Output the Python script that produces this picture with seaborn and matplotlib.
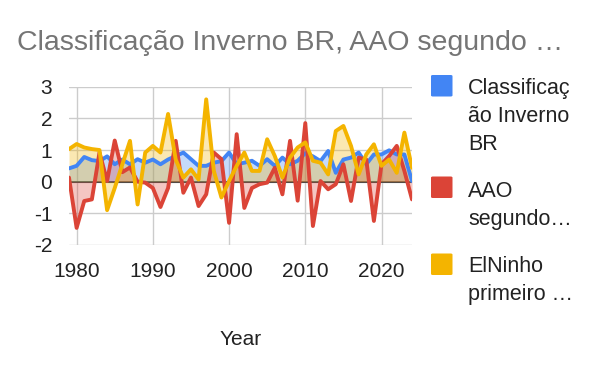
import numpy as np
import pandas as pd
import matplotlib
matplotlib.use("Agg")
import matplotlib.pyplot as plt
import seaborn as sns
from matplotlib.patches import FancyBboxPatch

years = list(range(1979, 2025))
classificacao = [0.42, 0.50, 0.78, 0.68, 0.65, 0.80, 0.55, 0.70, 0.55, 0.71,
                 0.60, 0.70, 0.55, 0.70, 0.81, 0.92, 0.71, 0.50, 0.50, 0.60,
                 0.65, 0.92, 0.55, 0.60, 0.66, 0.50, 0.71, 0.50, 0.76, 0.55,
                 0.66, 0.90, 0.80, 0.65, 0.97, 0.28, 0.70, 0.76, 0.92, 0.55,
                 0.86, 0.86, 0.99, 0.86, 0.86, 0.02]
aao = [0.13, -1.46, -0.61, -0.56, 0.92, 0.02, 1.30, 0.30, 0.45, 0.00,
       -0.03, -0.20, -0.80, -0.20, 1.29, -0.35, 0.13, -0.77, -0.40, 0.92,
       0.71, -1.30, 1.50, -0.83, -0.20, -0.08, -0.03, 0.44, -0.40, 1.29,
       -0.60, 1.85, -1.40, 0.02, -0.24, -0.08, 0.55, -0.61, 0.76, 0.70,
       -1.24, 0.55, 0.81, 1.13, 0.34, -0.56]
elninho = [1.03, 1.19, 1.08, 1.03, 1.00, -0.90, -0.20, 0.55, 1.29, -0.72,
           0.92, 1.13, 0.92, 2.14, 0.70, 0.13, 0.39, 0.07, 2.60, 0.34,
           -0.50, 0.02, 0.50, 0.92, 0.34, 0.34, 1.34, 0.81, 0.13, 0.76,
           1.08, 1.24, 0.66, 0.60, 0.23, 1.60, 1.76, 1.13, 0.23, 0.86,
           1.18, 0.50, 0.70, 0.28, 1.55, 0.44]

series_names = ["Classificação Inverno BR", "AAO segundo", "ElNinho primeiro"]
legend_labels = ["Classificaç\não Inverno\nBR", "AAO\nsegundo…", "ElNinho\nprimeiro …"]
colors = ["#4285F4", "#DB4437", "#F4B400"]
yticks = [-2, -1, 0, 1, 2, 3]
xticks = [1980, 1990, 2000, 2010, 2020]
title = "Classificação Inverno BR, AAO segundo …"
xlabel = "Year"

sns.set_theme(style="white")
plt.rcParams['font.family'] = ['Liberation Sans', 'DejaVu Sans']
plt.rcParams['axes.unicode_minus'] = False

W, H = 600, 371
fig = plt.figure(figsize=(W / 100, H / 100), dpi=100)
fig.patch.set_facecolor("white")

def fx(px):
    return px / W

def fy(py):
    return 1 - py / H

left, right, top, bottom = 69, 412, 86.7, 245
ax = fig.add_axes([fx(left), fy(bottom), fx(right) - fx(left), fy(top) - fy(bottom)])

df = pd.DataFrame({"Year": years,
                   series_names[0]: classificacao,
                   series_names[1]: aao,
                   series_names[2]: elninho})
long = df.melt(id_vars="Year", var_name="Series", value_name="Value")

ax.axhline(0, color="#333333", lw=1.3, zorder=1)
for name, col in zip(series_names, colors):
    ax.fill_between(df["Year"], df[name], 0, color=col, alpha=0.3, lw=0, zorder=2)

sns.lineplot(data=long, x="Year", y="Value", hue="Series", palette=colors,
             hue_order=series_names, lw=2.8, ax=ax, legend=False, zorder=3)

ax.set_xlim(1979, 2024)
ax.set_ylim(-2, 3)
ax.set_yticks(yticks)
ax.set_xticks(xticks)
ax.grid(True, color="#cccccc", lw=1)
ax.set_axisbelow(True)
for s in ax.spines.values():
    s.set_visible(False)
ax.tick_params(axis="both", length=0, labelsize=15, colors="#222222")
ax.tick_params(axis="y", pad=12)
ax.tick_params(axis="x", pad=12)
ax.set_ylabel("")
ax.set_xlabel(xlabel, fontsize=15, color="#222222")
ax.xaxis.set_label_coords(0.5, -0.54)

fig.text(fx(17), fy(50), title, fontsize=20.5, color="#757575",
         ha="left", va="baseline")

# legend (baseline given for the last line of each label)
sq_tops = [75, 176.5, 253.5]
last_baselines = [150.5, 225, 300]
for lab, col, st, tb in zip(legend_labels, colors, sq_tops, last_baselines):
    p = FancyBboxPatch((fx(431), fy(st + 21.5)), fx(21.5), 21.5 / H,
                       boxstyle="round,pad=0,rounding_size=0.003",
                       transform=fig.transFigure, facecolor=col, edgecolor="none")
    fig.add_artist(p)
    fig.text(fx(468), fy(tb), lab, fontsize=15.5, color="#222222",
             ha="left", va="baseline", linespacing=1.45)

fig.savefig("out.png", dpi=100)
